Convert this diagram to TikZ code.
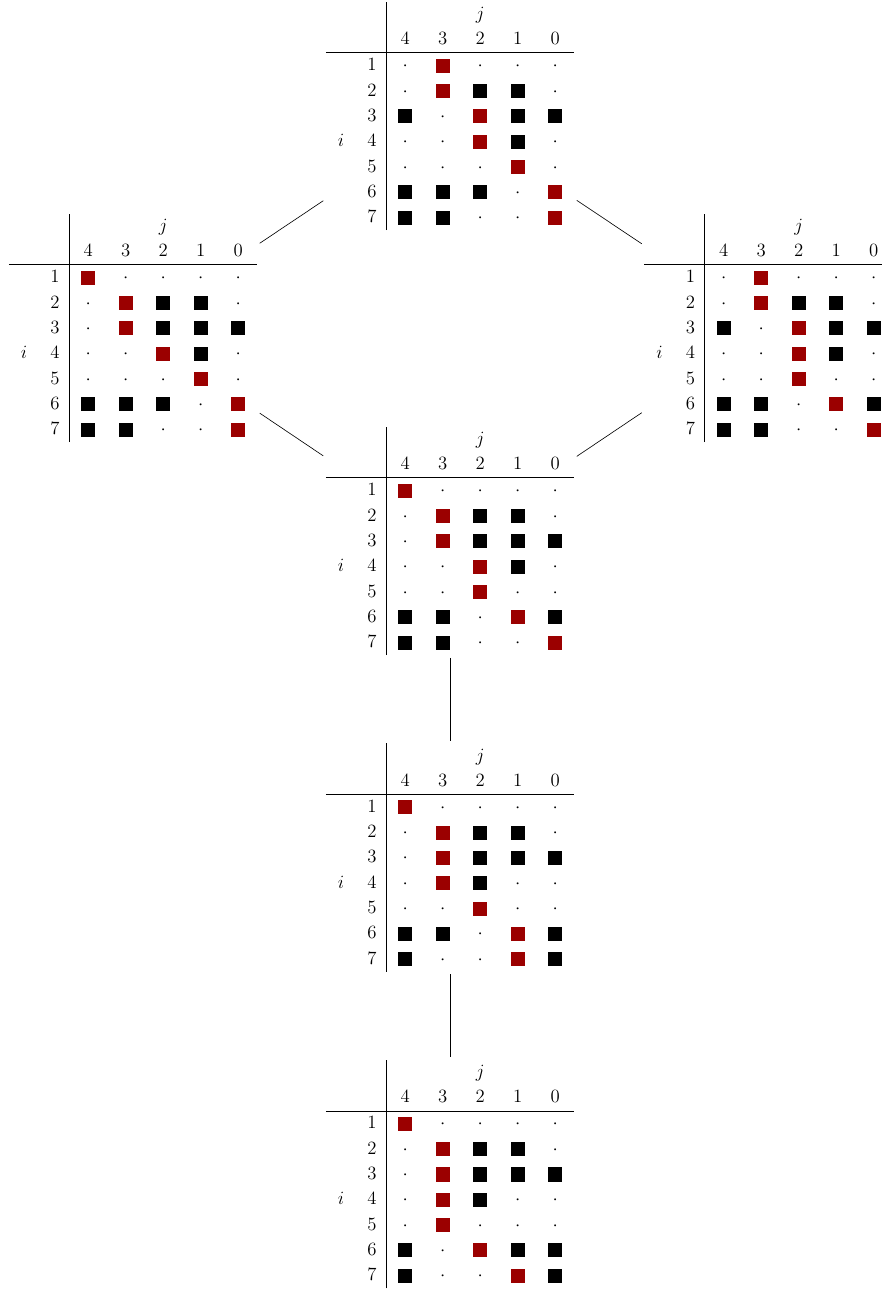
\documentclass[tikz,border=0pt]{standalone}
\usepackage{array}
\usepackage{xcolor}
\usepackage{tikz}
\usetikzlibrary{positioning}
\definecolor{sqred}{RGB}{155,0,0}
\renewcommand{\arraystretch}{1.35}
\newcommand{\gdot}{$\cdot$}
\newcommand{\gblk}{\rule[-1.3pt]{9pt}{9pt}}
\newcommand{\gred}{\textcolor{sqred}{\rule[-1.3pt]{9pt}{9pt}}}
% one state: rows 1..7, columns j = 4..0
\newcommand{\grid}[7]{%
  \fontsize{12}{12}\selectfont
  \begin{tabular}{w{c}{7.2pt} w{r}{7.2pt}|*{5}{w{c}{12pt}}}
    & & \multicolumn{5}{c}{$j$} \\
    & & 4 & 3 & 2 & 1 & 0 \\ \hline
    & 1 & #1 \\
    & 2 & #2 \\
    & 3 & #3 \\
    $i$ & 4 & #4 \\
    & 5 & #5 \\
    & 6 & #6 \\
    & 7 & #7
  \end{tabular}}
\tikzset{
  tbl/.style={inner sep=1.5pt}
}

\begin{document}
\begin{tikzpicture}[x=0.64pt, y=-0.64pt, node distance=53pt]
  \useasboundingbox (0,0) rectangle (882,1289);

  \node[tbl] (top) at (450,116) {\grid
    {\gdot & \gred & \gdot & \gdot & \gdot}
    {\gdot & \gred & \gblk & \gblk & \gdot}
    {\gblk & \gdot & \gred & \gblk & \gblk}
    {\gdot & \gdot & \gred & \gblk & \gdot}
    {\gdot & \gdot & \gdot & \gred & \gdot}
    {\gblk & \gblk & \gblk & \gdot & \gred}
    {\gblk & \gblk & \gdot & \gdot & \gred}};

  \node[tbl] (left) at (133,328) {\grid
    {\gred & \gdot & \gdot & \gdot & \gdot}
    {\gdot & \gred & \gblk & \gblk & \gdot}
    {\gdot & \gred & \gblk & \gblk & \gblk}
    {\gdot & \gdot & \gred & \gblk & \gdot}
    {\gdot & \gdot & \gdot & \gred & \gdot}
    {\gblk & \gblk & \gblk & \gdot & \gred}
    {\gblk & \gblk & \gdot & \gdot & \gred}};

  \node[tbl] (right) at (768.5,328) {\grid
    {\gdot & \gred & \gdot & \gdot & \gdot}
    {\gdot & \gred & \gblk & \gblk & \gdot}
    {\gblk & \gdot & \gred & \gblk & \gblk}
    {\gdot & \gdot & \gred & \gblk & \gdot}
    {\gdot & \gdot & \gred & \gdot & \gdot}
    {\gblk & \gblk & \gdot & \gred & \gblk}
    {\gblk & \gblk & \gdot & \gdot & \gred}};

  \node[tbl] (mid) at (450,541) {\grid
    {\gred & \gdot & \gdot & \gdot & \gdot}
    {\gdot & \gred & \gblk & \gblk & \gdot}
    {\gdot & \gred & \gblk & \gblk & \gblk}
    {\gdot & \gdot & \gred & \gblk & \gdot}
    {\gdot & \gdot & \gred & \gdot & \gdot}
    {\gblk & \gblk & \gdot & \gred & \gblk}
    {\gblk & \gblk & \gdot & \gdot & \gred}};

  \node[tbl, below=of mid] (low) {\grid
    {\gred & \gdot & \gdot & \gdot & \gdot}
    {\gdot & \gred & \gblk & \gblk & \gdot}
    {\gdot & \gred & \gblk & \gblk & \gblk}
    {\gdot & \gred & \gblk & \gdot & \gdot}
    {\gdot & \gdot & \gred & \gdot & \gdot}
    {\gblk & \gblk & \gdot & \gred & \gblk}
    {\gblk & \gdot & \gdot & \gred & \gblk}};

  \node[tbl, below=of low] (last) {\grid
    {\gred & \gdot & \gdot & \gdot & \gdot}
    {\gdot & \gred & \gblk & \gblk & \gdot}
    {\gdot & \gred & \gblk & \gblk & \gblk}
    {\gdot & \gred & \gblk & \gdot & \gdot}
    {\gdot & \gred & \gdot & \gdot & \gdot}
    {\gblk & \gdot & \gred & \gblk & \gblk}
    {\gblk & \gdot & \gdot & \gred & \gblk}};

  \foreach \f/\t in {top/left,top/right,left/mid,right/mid,mid/low,low/last}
    \draw (\f) -- (\t);
\end{tikzpicture}
\end{document}
